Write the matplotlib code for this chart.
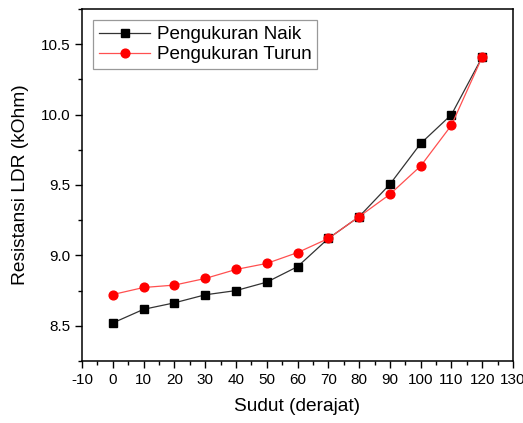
import matplotlib
matplotlib.use("Agg")
import matplotlib.pyplot as plt
from matplotlib.ticker import MultipleLocator

plt.rcParams['font.family'] = ['Liberation Sans', 'DejaVu Sans']
plt.rcParams['axes.unicode_minus'] = False

# data
sudut = [0, 10, 20, 30, 40, 50, 60, 70, 80, 90, 100, 110, 120]
naik = [8.52, 8.617, 8.663, 8.72, 8.75, 8.81, 8.92, 9.12, 9.275, 9.505, 9.795, 10.0, 10.41]
turun = [8.722, 8.772, 8.789, 8.836, 8.90, 8.943, 9.02, 9.12, 9.275, 9.434, 9.635, 9.925, 10.41]

fig = plt.figure(figsize=(5.23, 4.23), dpi=100)
ax = fig.add_axes([0.1568, 0.1466, 0.8242, 0.8321])

ax.plot(sudut, naik, color='#333333', lw=0.9, marker='s', ms=5.5,
        mfc='black', mec='black', label='Pengukuran Naik')
ax.plot(sudut, turun, color='#ff5050', lw=0.9, marker='o', ms=6.3,
        mfc='red', mec='red', label='Pengukuran Turun')

ax.set_xlim(-10, 130)
ax.set_ylim(8.25, 10.75)
ax.xaxis.set_major_locator(MultipleLocator(10))
ax.xaxis.set_minor_locator(MultipleLocator(5))
ax.yaxis.set_major_locator(MultipleLocator(0.5))
ax.yaxis.set_minor_locator(MultipleLocator(0.25))
ax.set_yticks([8.5, 9.0, 9.5, 10.0, 10.5])
ax.tick_params(which='major', direction='out', length=5, width=1, labelsize=11)
ax.tick_params(which='minor', direction='out', length=3, width=1)
for s in ax.spines.values():
    s.set_linewidth(1.1)

ax.set_xlabel('Sudut (derajat)', fontsize=13.8, labelpad=8)
ax.set_ylabel('Resistansi LDR (kOhm)', fontsize=13.8, labelpad=8)

leg = ax.legend(loc='upper left', fontsize=13.6, fancybox=False, framealpha=1,
                edgecolor='#999999', handlelength=2.7, handletextpad=0.35,
                borderpad=0.3, labelspacing=0.15, borderaxespad=0.6)
leg.get_frame().set_linewidth(0.9)

fig.savefig('out.png', dpi=100)
